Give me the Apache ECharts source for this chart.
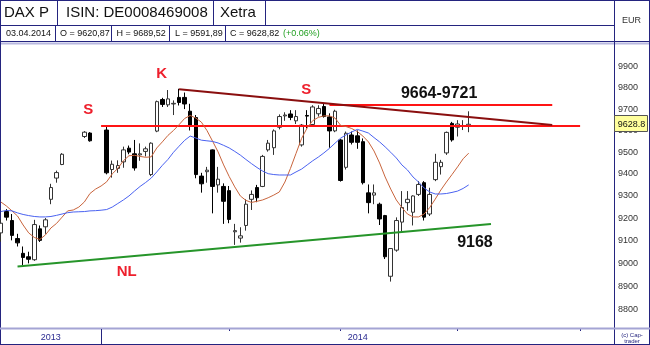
<!DOCTYPE html>
<html><head><meta charset="utf-8">
<script src="https://cdn.jsdelivr.net/npm/echarts@6.0.0/dist/echarts.min.js"></script>
<style>html,body{margin:0;padding:0;background:#fff;}#c{width:650px;height:345px;}</style>
</head><body><div id="c"></div>
<script>
// ---------- categories (weekday slots) ----------
const monthDays = [
  ['2013-12', [6,9,10,11,12,13,16,17,18,19,20,23,24,25,26,27,30,31]],
  ['2014-01', [1,2,3,6,7,8,9,10,13,14,15,16,17,20,21,22,23,24,27,28,29,30,31]],
  ['2014-02', [3,4,5,6,7,10,11,12,13,14,17,18,19,20,21,24,25,26,27,28]],
  ['2014-03', [3,4,5,6,7,10,11,12,13,14,17,18,19,20,21,24,25,26,27,28,31]],
  ['2014-04', [1,2,3,4,7,8,9,10,11,14,15,16,17,18,21,22,23,24,25,28,29,30]],
  ['2014-05', [1,2,5,6,7,8]]
];
const dates = [];
monthDays.forEach(([m, ds]) => ds.forEach(d => dates.push(m + '-' + String(d).padStart(2, '0'))));

// ---------- daily OHLC (null = exchange holiday) ----------
const opens  = [9135,9230,9190,9110,9045,9030,9017,9153,9162,9285,9381,9443,null,null,null,9572,9588,null,null,
  9602,9420,9425,9455,9518,9492,9487,9503,9397,9597,9745,9720,9724,9755,9755,9690,9660,9390,9410,9510,9350,9343,
  9324,9140,9112,9168,9285,9338,9343,9510,9520,9615,9668,9677,9645,9533,9670,9628,9678,9712,9663,9598,
  9556,9430,9579,9575,9548,9314,9304,9263,9212,8945,9059,9183,9270,9227,9307,9360,9219,9374,9433,9496,9633,
  9615,9620,9620.87];
const closes = [9178,9205,9124,9091,9027,9019,9172,9102,9193,9338,9406,9490,null,null,null,9592,9552,null,null,
  9405,9444,9438,9510,9500,9427,9492,9515,9541,9735,9722,9748,9727,9731,9724,9625,9397,9355,9417,9343,9376,9276,
  9195,9145,9122,9263,9307,9292,9480,9541,9598,9665,9672,9661,9665,9625,9667,9710,9703,9665,9598,9690,
  9370,9587,9545,9545,9360,9270,9314,9197,9030,9066,9190,9248,9285,9300,9352,9205,9307,9453,9453,9591,9556,
  9630,9623.2,9628.82];
const lows   = [9096,9190,9102,9075,8994,9001,9012,9095,9131,9263,9360,9440,null,null,null,9565,9548,null,null,
  9398,9383,9405,9428,9490,9415,9460,9480,9390,9592,9710,9710,9672,9717,9700,9600,9380,9315,9360,9222,9315,9175,
  9178,9082,9092,9145,9237,9272,9340,9502,9487,9605,9645,9648,9630,9525,9610,9622,9665,9660,9520,9592,
  9365,9420,9535,9515,9352,9222,9263,9170,9020,8922,9052,9140,9234,9168,9300,9190,9210,9367,9397,9487,9548,
  9572,9602,9591.89];
const highs  = [9195,9241,9219,9131,9075,9052,9193,9168,9201,9355,9415,9495,null,null,null,9597,9592,null,null,
  9622,9461,9462,9525,9530,9556,9540,9525,9545,9740,9753,9790,9741,9796,9778,9725,9672,9405,9432,9512,9432,9357,
  9345,9175,9160,9285,9325,9350,9487,9556,9605,9675,9685,9695,9695,9630,9695,9718,9718,9726,9680,9697,
  9560,9595,9595,9600,9563,9352,9352,9270,9215,9068,9204,9322,9322,9303,9367,9367,9337,9492,9464,9595,9640,
  9648,9648,9689.52];

// ---------- moving averages ----------
const maFast = [9273,9255,9233,9210,9170,9135,9115,9106,9126,9157,9177,9205,9233,9237,9250,9273,9311,9331,9345,9364,
  9400,9425,9460,9483,9485,9480,9476,9478,9519,9547,9577,9600,9627,9656,9670,9658,9639,9600,9551,9501,
  9441,9388,9341,9300,9280,9271,9276,9282,9292,9304,9318,9363,9425,9494,9563,9612,9646,9661,9668,9668,
  9658,9624,9618,9609,9595,9574,9547,9505,9450,9386,9331,9282,9248,9219,9206,9206,9219,9248,9286,9327,
  9363,9397,9432,9469,9495];
const maSlow = [9230,9235,9233,9224,9217,9212,9208,9206,9206,9208,9213,9219,9225,9228,9229,9230,9233,9234,9236,9239,
  9250,9266,9282,9300,9322,9343,9361,9381,9409,9439,9466,9499,9527,9554,9574,9565,9555,9552,9549,9542,
  9531,9519,9503,9486,9466,9447,9429,9413,9401,9397,9395,9395,9395,9409,9422,9441,9460,9477,9496,9517,
  9541,9564,9580,9593,9605,9597,9588,9567,9547,9524,9499,9473,9441,9418,9386,9363,9336,9318,9309,9309,
  9311,9316,9322,9334,9350];

// ---------- axis ticks ----------
const yTicks = [8800,8900,9000,9100,9200,9300,9400,9500,9600,9700,9800,9900];

// ---------- drawn annotations (date, price) ----------
const resistLow   = [['2014-01-01', 9621], ['2014-05-01', 9621]];
const resistHigh  = [['2014-02-27', 9721], ['2014-04-24', 9721]];
const downTrend   = [['2014-01-21', 9794], ['2014-04-24', 9625]];
const neckLine    = [['2013-12-11', 8987], ['2014-04-09', 9174]];
const notes = [
  {text:'S',         at:['2013-12-30', 9695], kind:'red', dx:-1.7},
  {text:'K',         at:['2014-01-16', 9865], kind:'red', dx:-0.7},
  {text:'S',         at:['2014-02-21', 9789], kind:'red', dx:-1},
  {text:'NL',        at:['2014-01-08', 8964], kind:'red', dx:-2.3},
  {text:'9664-9721', at:['2014-03-27', 9771], kind:'black', dx:-1.7},
  {text:'9168',      at:['2014-04-04', 9091], kind:'black', dx:0.7}
];

const FONT = '"Liberation Sans", Arial, sans-serif';
const NAVY = '#24247f';
const RED = '#ee1f2c';
const SLOT = 5.5698;

const chart = echarts.init(document.getElementById('c'), null, {renderer: 'canvas'});
const candles = opens.map((o, i) => o == null ? '-' : [o, closes[i], lows[i], highs[i]]);
const pair = (p, color) => [
  {coord: p[0], lineStyle: {color: color, width: 2, type: 'solid'}},
  {coord: p[1]}
];

chart.setOption({
  animation: false,
  backgroundColor: '#fff',
  grid: {left: -1.95, top: 45, width: SLOT * dates.length, height: 283, outerBoundsMode: 'none', containLabel: false},
  xAxis: {
    type: 'category', data: dates, boundaryGap: true,
    axisLine: {show: false}, axisLabel: {show: false}, splitLine: {show: false},
    axisTick: {
      show: true, alignWithLabel: true, length: 3,
      interval: (i) => i > 0 && dates[i].slice(0, 7) !== dates[i - 1].slice(0, 7),
      lineStyle: {color: NAVY, width: 1}
    }
  },
  yAxis: {
    type: 'log', logBase: 10, min: 8723.5, max: 10006, position: 'right', scale: true,
    axisLine: {show: false}, axisTick: {show: false}, axisLabel: {show: false}, splitLine: {show: false}
  },
  series: [
    {
      type: 'candlestick', data: candles, barWidth: 4, z: 3,
      itemStyle: {color: '#ffffff', color0: '#000000', borderColor: '#333333', borderColor0: '#000000', borderWidth: 1},
      markLine: {
        silent: true, symbol: ['none', 'none'], label: {show: false}, z: 4,
        data: [
          pair(resistLow, '#ff1414'),
          pair(resistHigh, '#ff1414'),
          pair(downTrend, '#8a0f0f'),
          pair(neckLine, '#26952a')
        ]
      },
      markPoint: {
        silent: true, symbol: 'rect', symbolSize: 1, z: 6,
        itemStyle: {color: 'rgba(0,0,0,0)'},
        data: notes.map(n => ({
          coord: n.at, value: n.text,
          label: {
            show: true, position: 'inside', formatter: n.text,
            offset: [n.dx, 0],
            fontFamily: FONT, fontWeight: 'bold',
            fontSize: n.kind === 'red' ? 15 : 16,
            color: n.kind === 'red' ? RED : '#111111'
          }
        }))
      }
    },
    {type: 'line', data: maFast, symbol: 'none', z: 4, lineStyle: {color: '#c8643c', width: 1}, silent: true},
    {type: 'line', data: maSlow, symbol: 'none', z: 4, lineStyle: {color: '#4a62f0', width: 1}, silent: true}
  ]
});

// ---------- frame, header and axis texts ----------
const g = [];
const ln = (x1, y1, x2, y2, color, w, z) => g.push({type: 'line', silent: true, z: z || 1,
  shape: {x1, y1, x2, y2}, style: {stroke: color, lineWidth: w || 1}});
const tx = (x, y, t, o) => g.push({type: 'text', silent: true, x, y, z: (o && o.z) || 2,
  style: Object.assign({text: t, fontFamily: FONT, fontSize: 9, fill: '#111', align: 'left', verticalAlign: 'middle',
    textAlign: 'left', textVerticalAlign: 'middle'}, o || {})});

const last = opens.length - 1;
const fmt = v => v.toFixed(2).replace('.', ',');
const chg = (closes[last] / closes[last - 1] - 1) * 100;
const dParts = dates[last].split('-');

// header
ln(0, 25.5, 614, 25.5, NAVY, 1);
ln(57.5, 0, 57.5, 25, NAVY, 1);
ln(213.5, 0, 213.5, 25, NAVY, 1);
ln(265.5, 0, 265.5, 25, NAVY, 1);
ln(55.5, 25, 55.5, 42, NAVY, 1);
ln(111.5, 25, 111.5, 42, NAVY, 1);
ln(169.5, 25, 169.5, 42, NAVY, 1);
ln(225.5, 25, 225.5, 42, NAVY, 1);
ln(0, 41.5, 650, 41.5, NAVY, 1);
ln(0, 43.5, 650, 43.5, '#b8b8e0', 2);
tx(4, 13, 'DAX P', {fontSize: 15});
tx(66, 13, 'ISIN: DE0008469008', {fontSize: 15});
tx(220, 13, 'Xetra', {fontSize: 15});
tx(6, 33.5, dParts[2] + '.' + dParts[1] + '.' + dParts[0]);
tx(60, 33.5, 'O = ' + fmt(opens[last]));
tx(116.5, 33.5, 'H = ' + fmt(highs[last]));
tx(175, 33.5, 'L = ' + fmt(lows[last]));
tx(230, 33.5, 'C = ' + fmt(closes[last]));
tx(283, 33.5, '(' + (chg >= 0 ? '+' : '') + chg.toFixed(2) + '%)', {fill: '#22a022'});
tx(631.5, 21, 'EUR', {align: 'center', textAlign: 'center', fill: '#333'});

// frame
ln(0.5, 0, 0.5, 345, NAVY, 1);
ln(649.5, 0, 649.5, 345, NAVY, 1);
ln(0, 0.5, 650, 0.5, NAVY, 1);
ln(0, 344.5, 650, 344.5, NAVY, 1);
ln(614.5, 0, 614.5, 345, NAVY, 1);
ln(0, 328.5, 650, 328.5, '#a4a4d4', 2);

// y labels
yTicks.forEach(v => {
  const y = chart.convertToPixel({yAxisIndex: 0}, v);
  tx(618, y, String(v), {fill: '#333'});
});

// last price box
const yLast = chart.convertToPixel({yAxisIndex: 0}, closes[last]);
g.push({type: 'rect', silent: true, z: 8, shape: {x: 614.5, y: Math.round(yLast) - 8.5, width: 33, height: 16},
  style: {fill: '#ffff9c', stroke: '#555', lineWidth: 1}});
tx(631.5, yLast, closes[last].toFixed(1), {align: 'center', textAlign: 'center', z: 9, fill: '#111'});

// year labels and divider
const firstOf2014 = dates.indexOf('2014-01-01');
const xDiv = Math.round(chart.convertToPixel({xAxisIndex: 0}, firstOf2014)) + 0.5;
ln(xDiv, 329, xDiv, 345, NAVY, 1);
tx((0 + xDiv) / 2, 337.5, '2013', {align: 'center', textAlign: 'center', fill: '#2a2a90'});
tx((xDiv + 614) / 2, 337.5, '2014', {align: 'center', textAlign: 'center', fill: '#2a2a90'});
tx(632, 335, '(c) Cap-', {align: 'center', textAlign: 'center', fontSize: 6, fill: NAVY});
tx(632, 341, 'trader', {align: 'center', textAlign: 'center', fontSize: 6, fill: NAVY});

chart.setOption({graphic: g});
</script>
</body></html>
